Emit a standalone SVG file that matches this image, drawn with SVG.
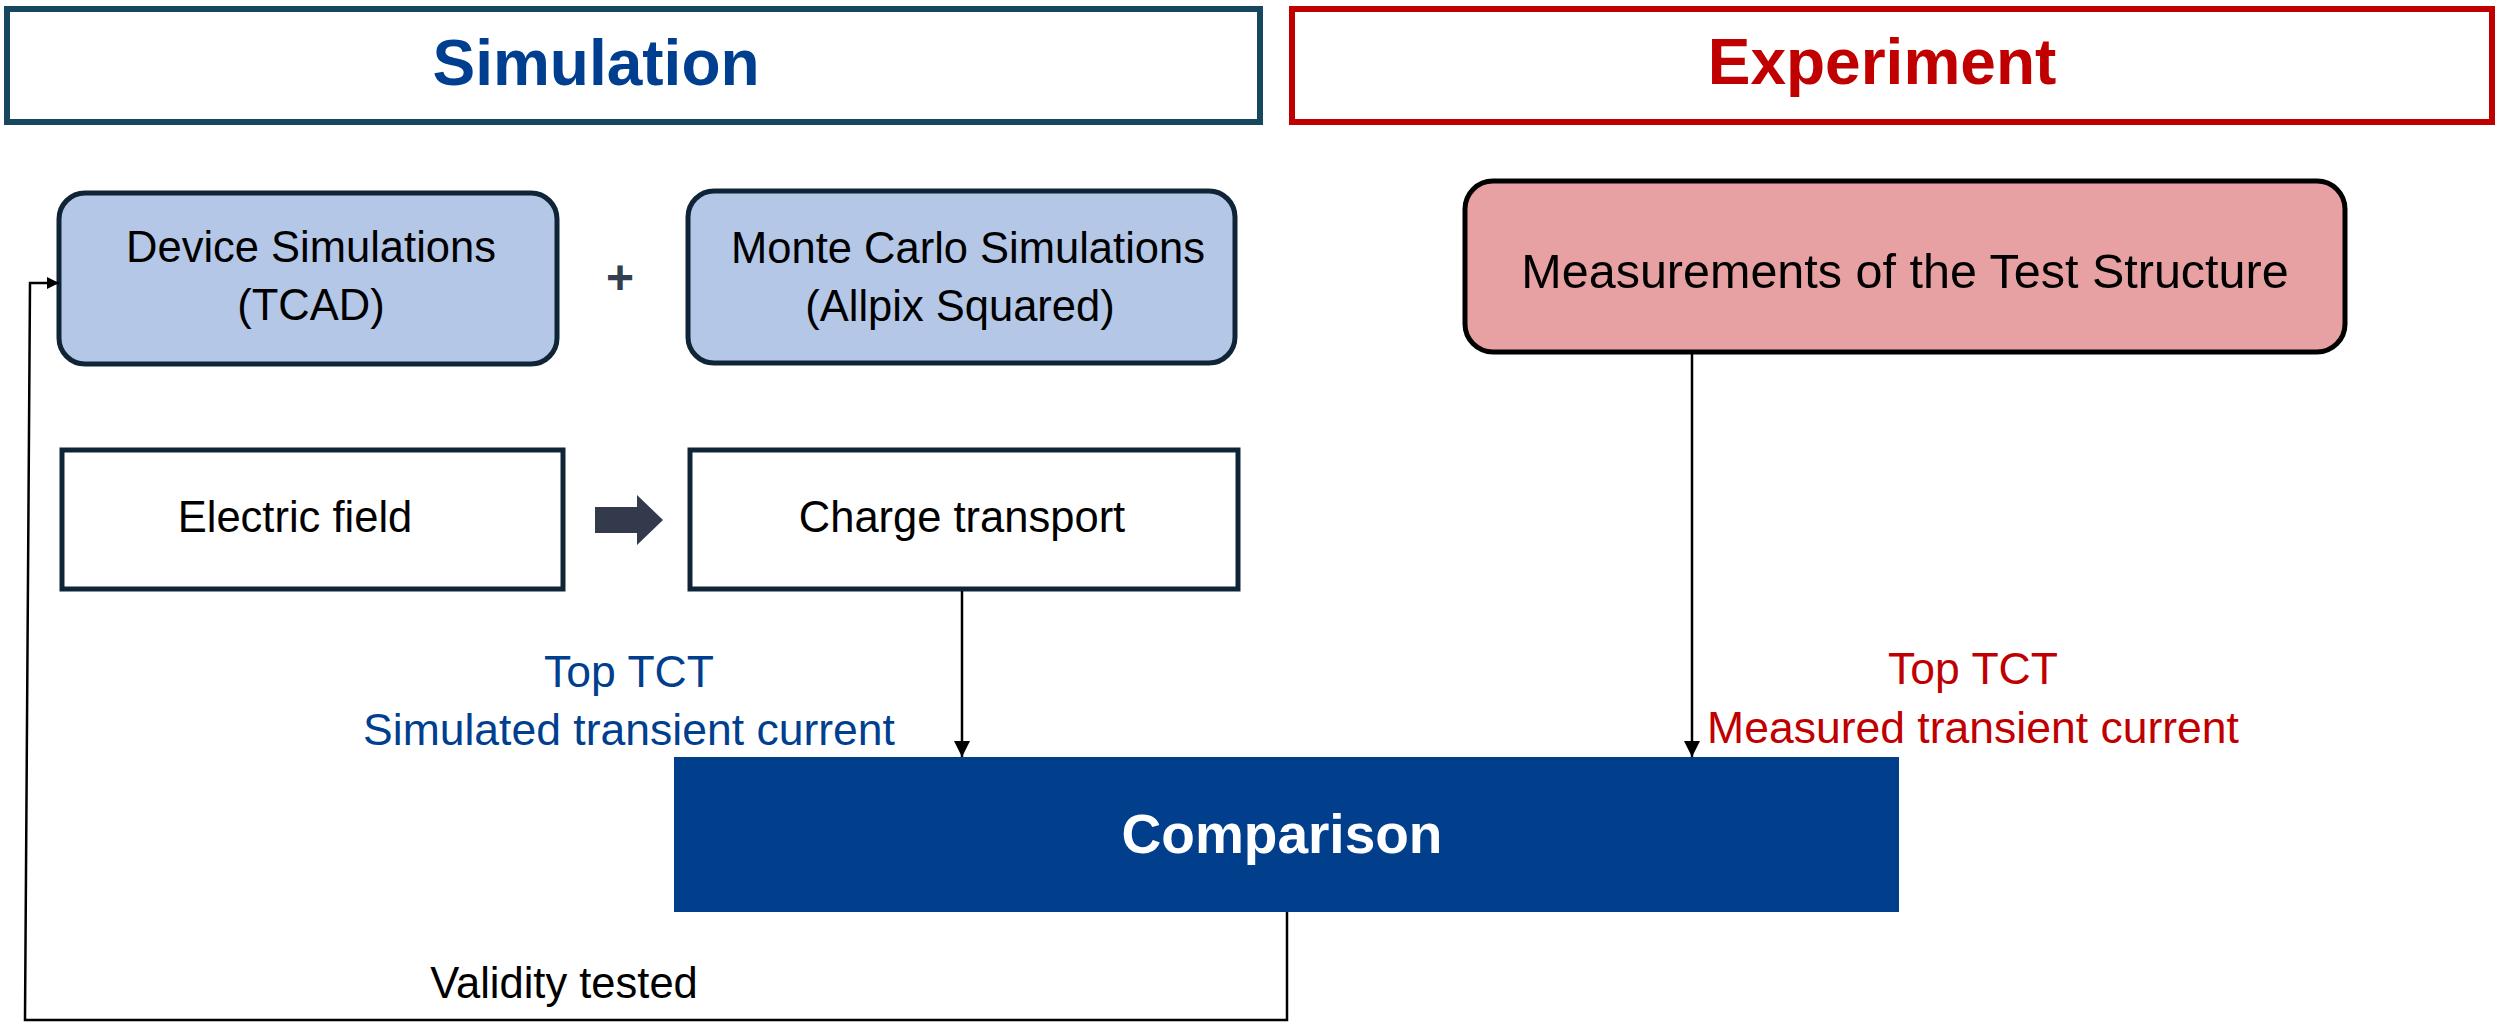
<svg xmlns="http://www.w3.org/2000/svg" width="2496" height="1023" viewBox="0 0 2496 1023">
<defs>
<style>
text{font-family:"Liberation Sans",Arial,sans-serif;text-anchor:middle}
.hdr{font-size:64px;font-weight:bold}
.lbl{font-size:43.5px;fill:#000}
.blue{fill:#B4C7E7;stroke:#0F2537;stroke-width:5}
.plain{fill:#FFFFFF;stroke:#0F2537;stroke-width:5}
.conn{fill:none;stroke:#000;stroke-width:2.5}
</style>
<marker id="ah" markerUnits="userSpaceOnUse" markerWidth="16" markerHeight="18" refX="16" refY="8" orient="auto">
<path d="M0,0 L16,8 L0,16 Z" fill="#000"/>
</marker>
<marker id="ahs" markerUnits="userSpaceOnUse" markerWidth="12" markerHeight="12" refX="12" refY="6" orient="auto">
<path d="M0,0 L12,6 L0,12 Z" fill="#000"/>
</marker>
</defs>
<rect width="2496" height="1023" fill="#FFFFFF"/>

<g id="hdr-simulation">
<rect x="7" y="9" width="1253" height="113" fill="#FFFFFF" stroke="#17475E" stroke-width="6"/>
<text class="hdr" x="596" y="85" fill="#003F8F">Simulation</text>
</g>
<g id="hdr-experiment">
<rect x="1292" y="9" width="1200" height="113" fill="#FFFFFF" stroke="#C00000" stroke-width="6"/>
<text class="hdr" x="1882" y="84" fill="#C00000">Experiment</text>
</g>

<g id="device-sim">
<rect class="blue" x="59" y="193" width="498" height="171" rx="26"/>
<text class="lbl" x="311" y="262">Device Simulations</text>
<text class="lbl" x="311" y="320">(TCAD)</text>
</g>
<g id="plus">
<text x="620" y="294" style="font-size:48px;font-weight:bold;fill:#333F50">+</text>
</g>
<g id="mc-sim">
<rect class="blue" x="688" y="191" width="547" height="172" rx="26"/>
<text class="lbl" x="968" y="263">Monte Carlo Simulations</text>
<text class="lbl" x="960" y="321">(Allpix Squared)</text>
</g>

<g id="electric-field">
<rect class="plain" x="62" y="450" width="501" height="139"/>
<text class="lbl" x="295" y="532">Electric field</text>
</g>
<g id="charge-transport">
<rect class="plain" x="690" y="450" width="548" height="139"/>
<text class="lbl" x="962" y="532">Charge transport</text>
</g>

<g id="measurements">
<rect x="1465" y="181" width="880" height="171" rx="28" fill="#E8A1A2" stroke="#000" stroke-width="5"/>
<text class="lbl" x="1905" y="288" style="font-size:48.5px">Measurements of the Test Structure</text>
</g>

<g id="comparison">
<rect x="674" y="757" width="1225" height="155" fill="#013E8C"/>
<text x="1282" y="853" style="font-size:55px;font-weight:bold;fill:#FFFFFF">Comparison</text>
</g>

<g id="connectors">
<path d="M595,507 H637 V495 L663,520 L637,545 V533 H595 Z" fill="#323A4B"/>
<line class="conn" x1="962" y1="591" x2="962" y2="757" marker-end="url(#ah)"/>
<line class="conn" x1="1692" y1="354" x2="1692" y2="757" marker-end="url(#ah)"/>
<path class="conn" d="M1287,912 V1020 H25 L30,283 H59" marker-end="url(#ahs)" stroke-width="3"/>
</g>

<g id="labels">
<text x="629" y="687" style="font-size:44.5px;fill:#003F8F">Top TCT</text>
<text x="629" y="745" style="font-size:44.5px;fill:#003F8F">Simulated transient current</text>
<text x="1973" y="684" style="font-size:44.5px;fill:#C00000">Top TCT</text>
<text x="1973" y="743" style="font-size:44.5px;fill:#C00000">Measured transient current</text>
<text x="564" y="998" style="font-size:43.5px;fill:#000">Validity tested</text>
</g>
</svg>
